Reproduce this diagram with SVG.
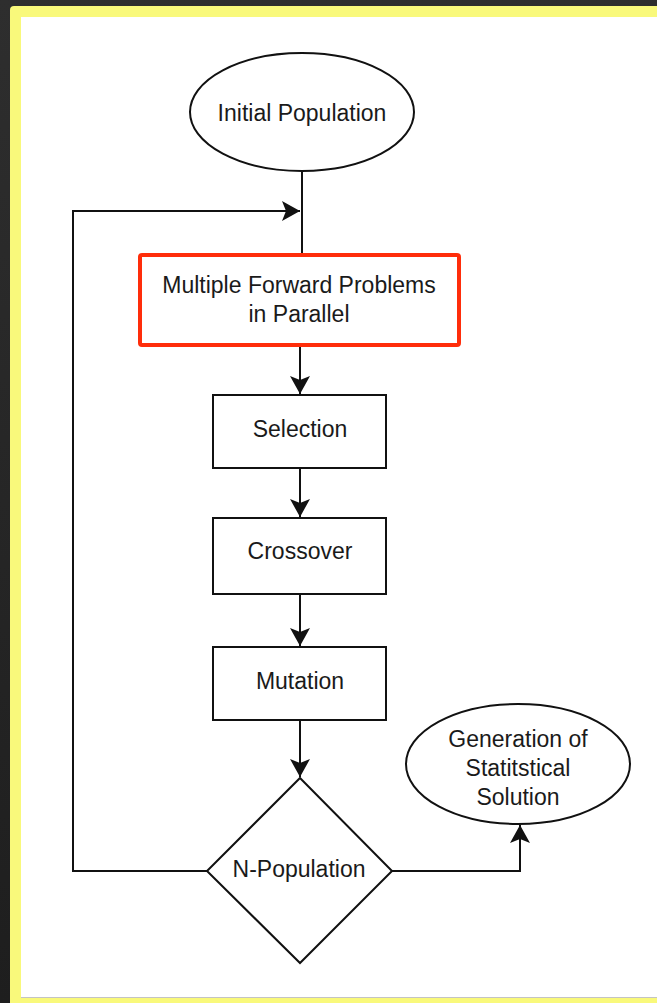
<svg xmlns="http://www.w3.org/2000/svg" width="657" height="1003" viewBox="0 0 657 1003">
  <style>
    .shape { fill: #ffffff; stroke: #111111; stroke-width: 2; }
    .hl { fill: #ffffff; stroke: #ff2d0a; stroke-width: 4; }
    .lbl { font-family: "Liberation Sans", Arial, sans-serif; font-size: 23px; fill: #1a1a1a; text-anchor: middle; }
    .conn { fill: none; stroke: #111111; stroke-width: 2; }
  </style>
  <defs>
    <marker id="arrow" viewBox="-20 -11 22 22" refX="0" refY="0" markerWidth="22" markerHeight="22" markerUnits="userSpaceOnUse" orient="auto">
      <path d="M0,0 L-18,-10 L-14,0 L-18,10 Z" fill="#111111"/>
    </marker>
    <linearGradient id="bg" x1="0" y1="0" x2="0" y2="1">
      <stop offset="0" stop-color="#2e2e2e"/>
      <stop offset="1" stop-color="#1e1e1e"/>
    </linearGradient>
  </defs>

  <rect x="0" y="0" width="657" height="1003" fill="url(#bg)"/>
  <rect x="10" y="6" width="660" height="1010" rx="4" fill="#f9f97b"/>
  <rect x="21" y="17" width="640" height="980" fill="#ffffff"/>
  <line x1="21" y1="997.5" x2="657" y2="997.5" stroke="#c4c4c4" stroke-width="1"/>

  <g id="connectors">
    <line class="conn" x1="302" y1="172" x2="302" y2="254"/>
    <polyline class="conn" points="207,871 73,871 73,211 300,211" marker-end="url(#arrow)"/>
    <line class="conn" x1="300" y1="346" x2="300" y2="394" marker-end="url(#arrow)"/>
    <line class="conn" x1="300" y1="468" x2="300" y2="517" marker-end="url(#arrow)"/>
    <line class="conn" x1="300" y1="594" x2="300" y2="646" marker-end="url(#arrow)"/>
    <line class="conn" x1="300" y1="720" x2="300" y2="777" marker-end="url(#arrow)"/>
    <polyline class="conn" points="392,871 520,871 520,825" marker-end="url(#arrow)"/>
  </g>

  <g id="initial-population">
    <ellipse class="shape" cx="302" cy="112" rx="112" ry="59"/>
    <text class="lbl" x="302" y="121">Initial Population</text>
  </g>

  <g id="forward-problems">
    <rect class="hl" x="140" y="255" width="319" height="90" rx="2"/>
    <text class="lbl" x="299" y="293">Multiple Forward Problems</text>
    <text class="lbl" x="299" y="322">in Parallel</text>
  </g>

  <g id="selection">
    <rect class="shape" x="213" y="395" width="173" height="73"/>
    <text class="lbl" x="300" y="437">Selection</text>
  </g>

  <g id="crossover">
    <rect class="shape" x="213" y="518" width="173" height="76"/>
    <text class="lbl" x="300" y="559">Crossover</text>
  </g>

  <g id="mutation">
    <rect class="shape" x="213" y="647" width="173" height="73"/>
    <text class="lbl" x="300" y="689">Mutation</text>
  </g>

  <g id="n-population">
    <polygon class="shape" points="300,778 392,871 300,963 207,871"/>
    <text class="lbl" x="299" y="877">N-Population</text>
  </g>

  <g id="statistical-solution">
    <ellipse class="shape" cx="518" cy="764" rx="112" ry="60"/>
    <text class="lbl" x="518" y="747">Generation of</text>
    <text class="lbl" x="518" y="776">Statitstical</text>
    <text class="lbl" x="518" y="805">Solution</text>
  </g>
</svg>
